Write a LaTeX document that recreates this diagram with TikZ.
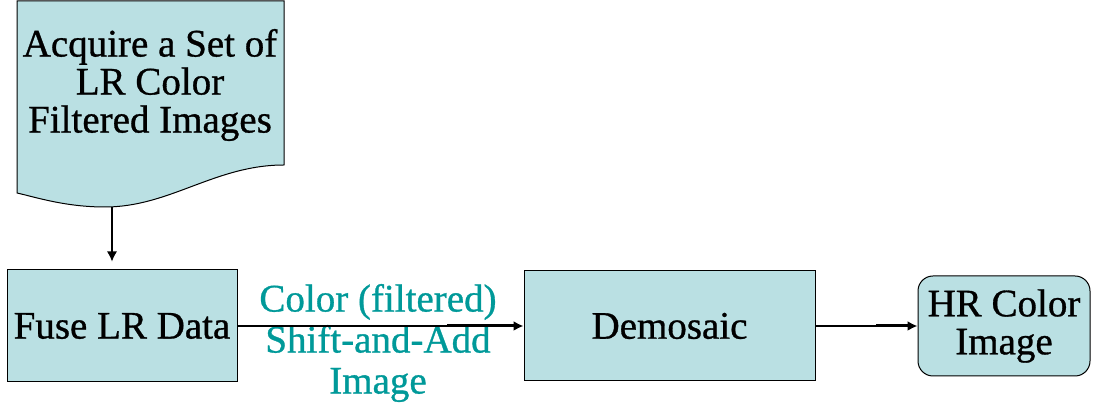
\documentclass[tikz,border=0pt]{standalone}
\usepackage{fontspec}
\setmainfont{Liberation Serif}[FakeBold=0.8]
\usetikzlibrary{arrows.meta}

\definecolor{boxfill}{HTML}{BAE0E3}
\definecolor{labelteal}{HTML}{009999}

\tikzset{
  block/.style={draw, fill=boxfill, line width=0.5pt, inner sep=0pt,
    font=\fontsize{19.5}{19}\selectfont},
  flow/.style={-{Latex[length=5pt,width=5pt]}, line width=0.6pt},
  flowthick/.style={-{Latex[length=5pt,width=5pt]}, line width=1.5pt},
}

\begin{document}
\begin{tikzpicture}[x=0.5pt,y=-0.5pt]
\useasboundingbox (0,0) rectangle (1093,410);

%================ DOCUMENT SHAPE ==================
\draw[fill=boxfill, line width=0.5pt] (17,1) -- (284,1) -- (284,165)
  .. controls (215,165) and (170,207) .. (105,207)
  .. controls (65,207) and (35,197) .. (17,193) -- cycle;
\node[font=\fontsize{19.5}{19}\selectfont, align=center] (acq) at (150,85)
  {Acquire a Set of\\LR Color\\Filtered Images};
\coordinate (acqbot) at (112,207);

%================ BOXES ==================
\node[block, minimum width=115pt, minimum height=56pt] (fuse) at (122,326) {Fuse LR Data};
\node[block, minimum width=145.5pt, minimum height=55pt] (demo) at (669.5,326) {Demosaic};
\node[block, rounded corners=7.5pt, minimum width=86pt, minimum height=50pt,
  align=center] (hr) at (1004,326) {HR Color\\Image};

%================ LABEL ==================
\node[text=labelteal, align=center, font=\fontsize{19.5}{20.5}\selectfont] (lbl)
  at (378,343) {Color (filtered)\\Shift-and-Add\\Image};

%================ ARROWS ==================
\draw[flow, shorten >=4pt] (acqbot) -- (acqbot |- fuse.north);

\coordinate (demoin) at (447,326);
\draw[line width=0.6pt] (fuse.east) -- (demoin);
\draw[flowthick] (demoin) -- (demo.west);

\coordinate (hrin) at (876,326);
\draw[line width=0.6pt] (demo.east) -- (hrin);
\draw[flowthick] (hrin) -- (hr.west);

\end{tikzpicture}
\end{document}
